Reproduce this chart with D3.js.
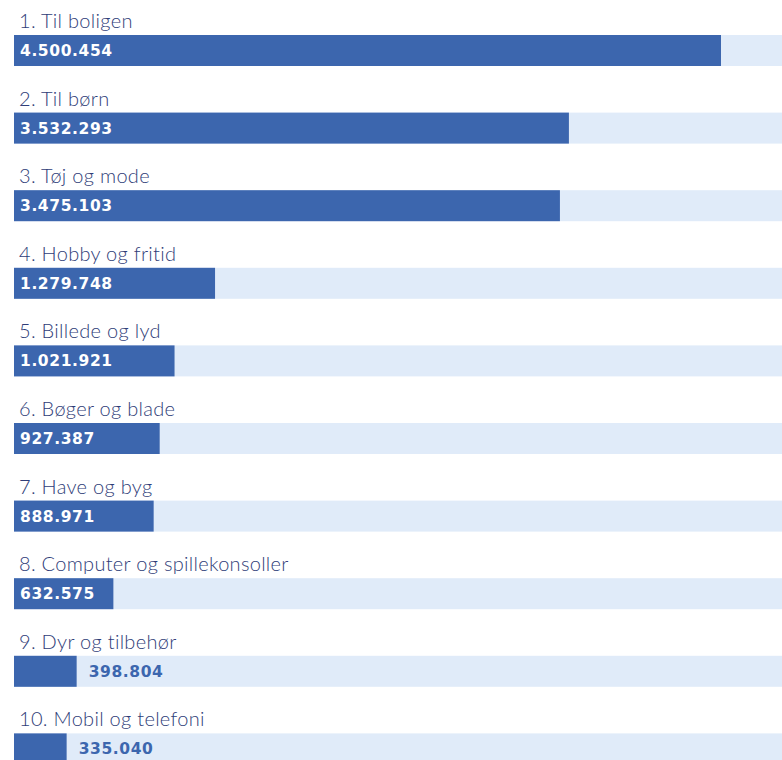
<!DOCTYPE html>
<html>
<head>
<meta charset="utf-8">
<script src="https://cdn.jsdelivr.net/npm/d3@7"></script>
<style>
  body { margin: 0; background: #fff; }
  .label { font-family: Lato, sans-serif; font-weight: 300; font-size: 20px; letter-spacing: 0.3px; fill: #2f3d78; }
  .value { font-family: "DejaVu Sans", sans-serif; font-weight: bold; font-size: 15.5px; letter-spacing: 0.6px; }
</style>
</head>
<body>
<div class="chart"></div>
<script>
// categories and values
var categories = ["1. Til boligen", "2. Til børn", "3. Tøj og mode", "4. Hobby og fritid",
  "5. Billede og lyd", "6. Bøger og blade", "7. Have og byg", "8. Computer og spillekonsoller",
  "9. Dyr og tilbehør", "10. Mobil og telefoni"];
var values = [4500454, 3532293, 3475103, 1279748, 1021921, 927387, 888971, 632575, 398804, 335040];

var svgWidth = 782;
var svgHeight = 760;
var left = 14;
var rowPitch = 77.6;
var barTop = 35;
var barHeight = 31;

var fmt = d3.formatLocale({decimal: ",", thousands: ".", grouping: [3], currency: ["", " kr"]}).format(",d");

var svg = d3.select(".chart")
  .append("svg")
  .attr("width", svgWidth)
  .attr("height", svgHeight);

// x scale: largest value reaches x=721
var x = d3.scaleLinear().domain([0, values[0]]).range([0, 707]);

var rows = svg.selectAll("g.row")
  .data(values)
  .enter()
  .append("g")
  .attr("class", "row")
  .attr("transform", function(d, i) { return "translate(" + left + "," + (barTop + i * rowPitch) + ")"; });

// light background track
rows.append("rect")
  .attr("x", 0)
  .attr("y", 0)
  .attr("width", svgWidth - left)
  .attr("height", barHeight)
  .attr("fill", "#e0ebf9");

rows.append("rect")
  .attr("x", 0)
  .attr("y", 0)
  .attr("width", function(d) { return x(d); })
  .attr("height", barHeight)
  .attr("fill", "#3c66ae");

rows.append("text")
  .attr("class", "label")
  .attr("x", 5)
  .attr("y", -7)
  .text(function(d, i) { return categories[i]; });

rows.append("text")
  .attr("class", "value")
  .attr("y", 21)
  .attr("x", function(d) { return x(d) > 90 ? 6 : x(d) + 12; })
  .attr("fill", function(d) { return x(d) > 90 ? "#fff" : "#3c66ae"; })
  .text(function(d) { return fmt(d); });
</script>
</body>
</html>
